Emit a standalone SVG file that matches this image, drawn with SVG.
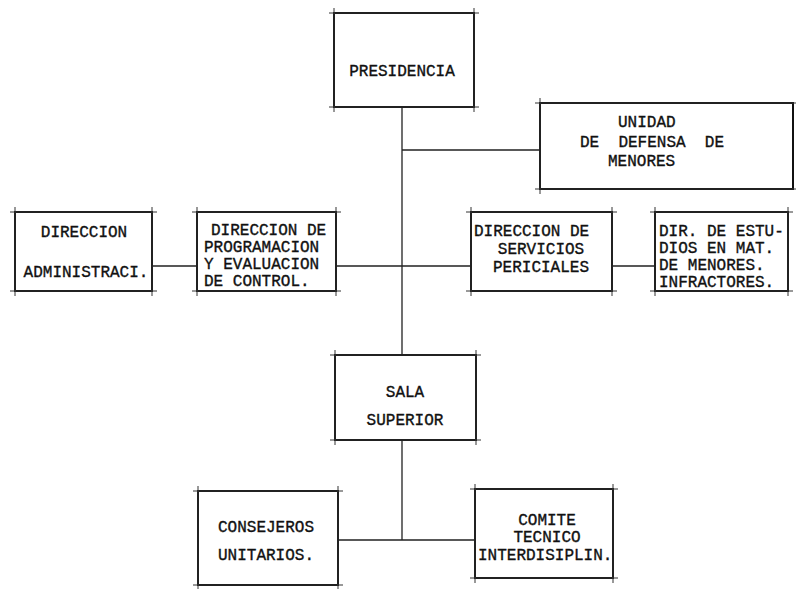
<svg xmlns="http://www.w3.org/2000/svg" width="796" height="589" viewBox="0 0 796 589">
<style>
.bx{fill:none;stroke:#111;stroke-width:2}
.tk{fill:none;stroke:#333;stroke-width:1}
.cn{fill:none;stroke:#222;stroke-width:1.3}
text{font-family:"Liberation Mono","DejaVu Sans Mono",monospace;font-size:16px;fill:#111;stroke:#111;stroke-width:0.35;white-space:pre}
.c{text-anchor:middle}
</style>
<rect width="796" height="589" fill="#fff"/>
<g id="connectors">
<path class="cn" d="M402 107V355M402 150H540M152 266H197M336 266H471M612 266H655M402 440V540M338 540H475"/>
</g>
<g id="presidencia">
<rect class="bx" x="334" y="13" width="140" height="94"/>
<path class="tk" d="M329 13H479M329 107H479M334 8V112M474 8V112"/>
<text class="c" x="402" y="76">PRESIDENCIA</text>
</g>
<g id="unidad">
<rect class="bx" x="540" y="103" width="253" height="86"/>
<path class="tk" d="M535 103H796M535 189H796M540 98V194"/>
<text x="618" y="127">UNIDAD</text>
<text x="580" y="147">DE  DEFENSA  DE</text>
<text x="608" y="166">MENORES</text>
</g>
<g id="dir-admin">
<rect class="bx" x="15" y="212" width="137" height="79"/>
<path class="tk" d="M10 212H157M10 291H157M15 207V296M152 207V296"/>
<text class="c" x="84" y="237">DIRECCION</text>
<text class="c" x="86" y="277">ADMINISTRACI.</text>
</g>
<g id="dir-programacion">
<rect class="bx" x="197" y="212" width="139" height="79"/>
<path class="tk" d="M192 212H341M192 291H341M197 207V296M336 207V296"/>
<text x="211" y="235">DIRECCION DE</text>
<text x="204" y="252">PROGRAMACION</text>
<text x="204" y="269">Y EVALUACION</text>
<text x="204" y="286">DE CONTROL.</text>
</g>
<g id="dir-servicios">
<rect class="bx" x="471" y="212" width="141" height="79"/>
<path class="tk" d="M466 212H617M466 291H617M471 207V296M612 207V296"/>
<text x="474" y="236">DIRECCION DE</text>
<text class="c" x="541" y="254">SERVICIOS</text>
<text class="c" x="541" y="272">PERICIALES</text>
</g>
<g id="dir-estudios">
<rect class="bx" x="655" y="212" width="133" height="79"/>
<path class="tk" d="M650 212H793M650 291H793M655 207V296M788 207V296"/>
<text x="659" y="236">DIR. DE ESTU-</text>
<text x="659" y="253">DIOS EN MAT.</text>
<text x="659" y="270">DE MENORES.</text>
<text x="659" y="287">INFRACTORES.</text>
</g>
<g id="sala-superior">
<rect class="bx" x="335" y="355" width="141" height="85"/>
<path class="tk" d="M330 355H481M330 440H481M335 350V445M476 350V445"/>
<text class="c" x="405" y="397">SALA</text>
<text class="c" x="405" y="425">SUPERIOR</text>
</g>
<g id="consejeros">
<rect class="bx" x="198" y="491" width="140" height="94"/>
<path class="tk" d="M193 491H343M193 585H343M198 486V589M338 486V589"/>
<text x="218" y="532">CONSEJEROS</text>
<text x="218" y="560">UNITARIOS.</text>
</g>
<g id="comite">
<rect class="bx" x="475" y="489" width="138" height="89"/>
<path class="tk" d="M470 489H618M470 578H618M475 484V583M613 484V583"/>
<text class="c" x="547" y="525">COMITE</text>
<text class="c" x="547" y="542">TECNICO</text>
<text x="478" y="560">INTERDISIPLIN.</text>
</g>
</svg>
